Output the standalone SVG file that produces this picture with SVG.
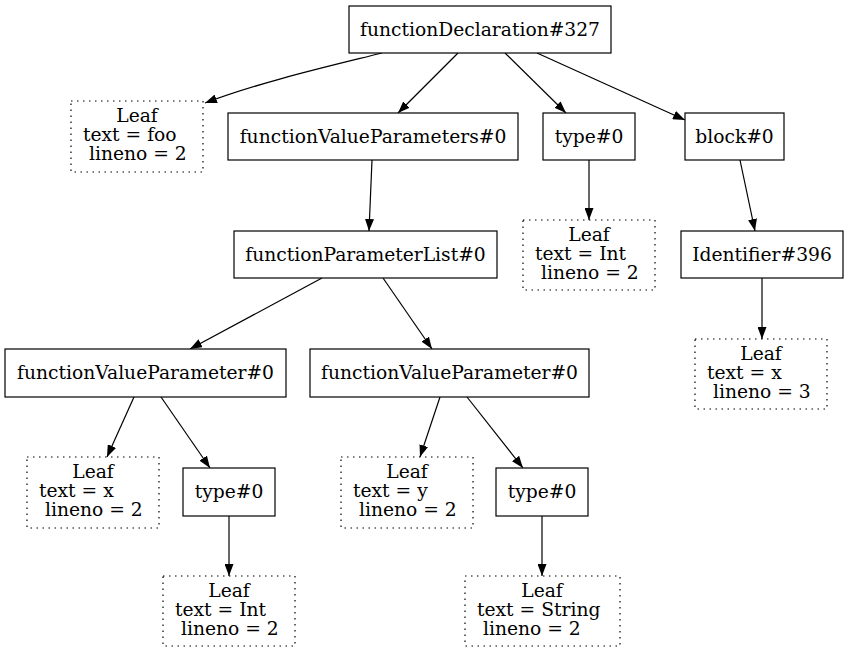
<svg xmlns="http://www.w3.org/2000/svg" width="848" height="652" viewBox="0 0 848 652">
<defs>
<marker id="ah" markerWidth="12" markerHeight="9" refX="12" refY="4.5" orient="auto" markerUnits="userSpaceOnUse">
<path d="M0,0 L12,4.5 L0,9 Z" fill="#000"/>
</marker>
<style>
rect.n{fill:#fff;stroke:#000;stroke-width:1.2}
rect.l{fill:#fff;stroke:#000;stroke-width:1.2;stroke-dasharray:1.5,4.5}
text{font-family:"DejaVu Serif",serif;font-size:18.7px;fill:#000}
text.c{text-anchor:middle}
#edges path{fill:none;stroke:#000;stroke-width:1.2;marker-end:url(#ah)}
</style>
</defs>
<rect width="848" height="652" fill="#fff"/>
<g id="edges">
<path d="M382,53 C330,66 260,82 205,103"/>
<path d="M458,53 L398,113"/>
<path d="M505,53 L566,113"/>
<path d="M537,53 L685,120"/>
<path d="M372,160 L369,231"/>
<path d="M589,160 L589,220"/>
<path d="M740,160 L755,231"/>
<path d="M762,278 L762,339"/>
<path d="M322,278 L190,349"/>
<path d="M383,278 L432,349"/>
<path d="M134,397 L107,457"/>
<path d="M161,397 L210,468"/>
<path d="M440,397 L420,457"/>
<path d="M467,397 L523,468"/>
<path d="M229,516 L229,576"/>
<path d="M542,516 L542,576"/>
</g>
<g id="functionDeclaration327"><rect class="n" x="349" y="6" width="262" height="47"/><text class="c" x="480" y="35.5">functionDeclaration#327</text></g>
<g id="leafFoo"><rect class="l" x="71" y="101" width="132" height="71"/><text class="c" x="137" y="122">Leaf</text><text x="83" y="141">text = foo</text><text x="89" y="160">lineno = 2</text></g>
<g id="functionValueParameters0"><rect class="n" x="228" y="113" width="290" height="47"/><text class="c" x="373" y="142.5">functionValueParameters#0</text></g>
<g id="type0a"><rect class="n" x="543" y="113" width="92" height="47"/><text class="c" x="589" y="142.5">type#0</text></g>
<g id="block0"><rect class="n" x="685" y="113" width="99" height="47"/><text class="c" x="734.5" y="142.5">block#0</text></g>
<g id="functionParameterList0"><rect class="n" x="234" y="231" width="263" height="47"/><text class="c" x="365.5" y="260.5">functionParameterList#0</text></g>
<g id="leafInt1"><rect class="l" x="523" y="220" width="132" height="70"/><text class="c" x="589" y="241">Leaf</text><text x="535" y="260">text = Int</text><text x="541" y="279">lineno = 2</text></g>
<g id="identifier396"><rect class="n" x="681" y="231" width="162" height="47"/><text class="c" x="762" y="260.5">Identifier#396</text></g>
<g id="leafX3"><rect class="l" x="695" y="339" width="132" height="70"/><text class="c" x="761" y="360">Leaf</text><text x="707" y="379">text = x</text><text x="713" y="398">lineno = 3</text></g>
<g id="functionValueParameter0a"><rect class="n" x="5" y="349" width="281" height="48"/><text class="c" x="145.5" y="378.5">functionValueParameter#0</text></g>
<g id="functionValueParameter0b"><rect class="n" x="310" y="349" width="279" height="48"/><text class="c" x="449.5" y="378.5">functionValueParameter#0</text></g>
<g id="leafX2"><rect class="l" x="27" y="457" width="132" height="71"/><text class="c" x="93" y="478">Leaf</text><text x="39" y="497">text = x</text><text x="45" y="516">lineno = 2</text></g>
<g id="type0b"><rect class="n" x="183" y="468" width="92" height="48"/><text class="c" x="229" y="497.5">type#0</text></g>
<g id="leafY"><rect class="l" x="341" y="457" width="132" height="71"/><text class="c" x="407" y="478">Leaf</text><text x="353" y="497">text = y</text><text x="359" y="516">lineno = 2</text></g>
<g id="type0c"><rect class="n" x="496" y="468" width="92" height="48"/><text class="c" x="542" y="497.5">type#0</text></g>
<g id="leafInt2"><rect class="l" x="163" y="576" width="132" height="70"/><text class="c" x="229" y="597">Leaf</text><text x="175" y="616">text = Int</text><text x="181" y="635">lineno = 2</text></g>
<g id="leafString"><rect class="l" x="465" y="576" width="155" height="70"/><text class="c" x="542" y="597">Leaf</text><text x="477" y="616">text = String</text><text x="483" y="635">lineno = 2</text></g>
</svg>
